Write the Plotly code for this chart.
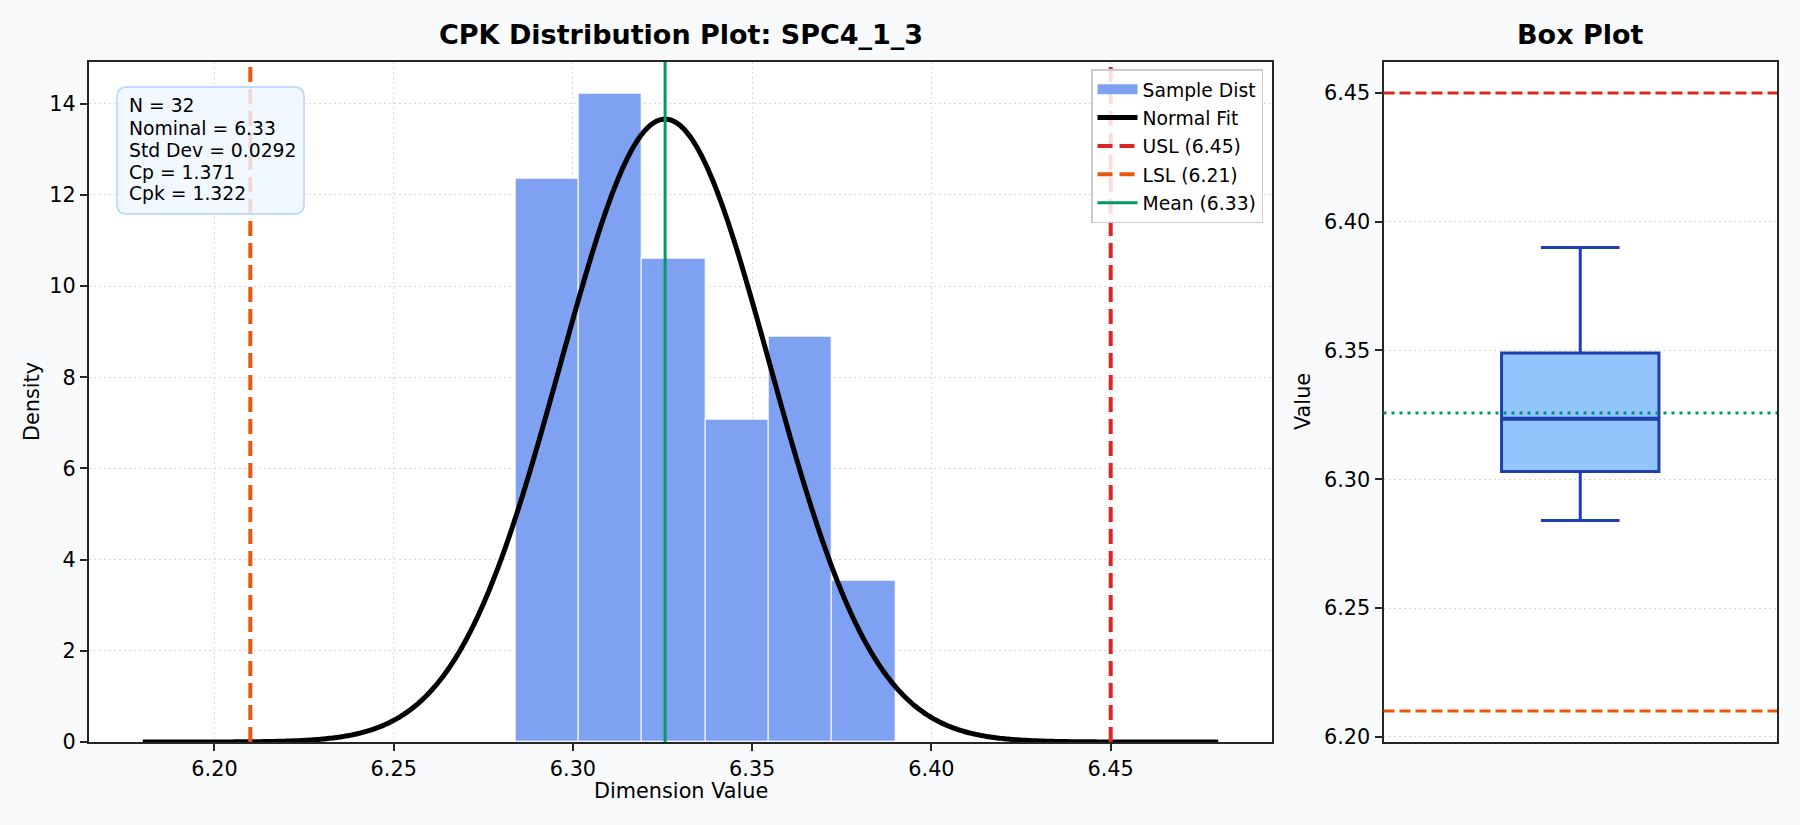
import numpy as np
import plotly.graph_objects as go

W, H = 1800, 825

PART = "SPC4_1_3"
N = 32
USL = 6.45
LSL = 6.21
MEAN = 6.3257
STD = 0.0292
NOMINAL = 6.33
CP = 1.371
CPK = 1.322

# histogram (6 bins between min and max sample)
BIN_EDGES = [6.284, 6.3017, 6.3193, 6.337, 6.3547, 6.3723, 6.390]
BIN_COUNTS = [7, 8, 6, 4, 5, 2]

# box plot summary
BOX_Q1 = 6.303
BOX_MEDIAN = 6.3235
BOX_Q3 = 6.349
BOX_LOW = 6.284
BOX_HIGH = 6.390

C_BAR = "#7ea1f1"
C_USL = "#dc2626"
C_LSL = "#ea580c"
C_MEAN = "#059669"
C_BOX = "#93c5fd"
C_BOX_LINE = "#1e40af"
C_GRID = "#d9d9d9"
C_SPINE = "#262626"
FONT = "DejaVu Sans"


def px(x):
    return x / W


def py(y):
    return 1 - y / H


edges = np.array(BIN_EDGES)
widths = np.diff(edges)
centers = edges[:-1] + widths / 2
density = np.array(BIN_COUNTS) / (N * widths)

x_lo, x_hi = LSL - 0.03, USL + 0.03
xs = np.linspace(x_lo, x_hi, 600)
pdf = np.exp(-0.5 * ((xs - MEAN) / STD) ** 2) / (STD * np.sqrt(2 * np.pi))
y_top = 1.05 * max(density.max(), pdf.max())
x_pad = 0.05 * (x_hi - x_lo)
b_pad = 0.05 * (USL - LSL)

fig = go.Figure()

fig.add_trace(go.Bar(
    x=centers, y=density, width=widths, name="Sample Dist",
    marker=dict(color=C_BAR, line=dict(color="rgba(255,255,255,0.65)", width=1.5)),
    showlegend=False, hoverinfo="skip",
))
# legend patch for the histogram (wide swatch like the original)
fig.add_trace(go.Scatter(
    x=[None], y=[None], mode="lines", name="Sample Dist",
    line=dict(color=C_BAR, width=14), legendgroup="a",
))
fig.add_trace(go.Scatter(
    x=xs, y=pdf, mode="lines", name="Normal Fit",
    line=dict(color="black", width=5, simplify=False), legendgroup="b", hoverinfo="skip",
))
fig.add_trace(go.Scatter(
    x=[USL, USL], y=[0, y_top], mode="lines", name=f"USL ({USL:.2f})",
    line=dict(color=C_USL, width=4, dash="15px,7px"), legendgroup="c", hoverinfo="skip",
))
fig.add_trace(go.Scatter(
    x=[LSL, LSL], y=[0, y_top], mode="lines", name=f"LSL ({LSL:.2f})",
    line=dict(color=C_LSL, width=4, dash="15px,7px"), legendgroup="d", hoverinfo="skip",
))
fig.add_trace(go.Scatter(
    x=[MEAN, MEAN], y=[0, y_top], mode="lines", name=f"Mean ({MEAN:.2f})",
    line=dict(color=C_MEAN, width=3), legendgroup="e", hoverinfo="skip",
))

# box plot
BOX_POS, BOX_W = 1, 0.4
fig.add_trace(go.Box(
    x=[BOX_POS], q1=[BOX_Q1], median=[BOX_MEDIAN], q3=[BOX_Q3],
    lowerfence=[BOX_LOW], upperfence=[BOX_HIGH], width=BOX_W,
    whiskerwidth=0.5, fillcolor=C_BOX, line=dict(color=C_BOX_LINE, width=3),
    xaxis="x2", yaxis="y2", showlegend=False, hoverinfo="skip",
))

shapes = [
    dict(type="line", xref="x2 domain", yref="y2", x0=0, x1=1, y0=USL, y1=USL,
         line=dict(color=C_USL, width=3, dash="11px,5px")),
    dict(type="line", xref="x2 domain", yref="y2", x0=0, x1=1, y0=LSL, y1=LSL,
         line=dict(color=C_LSL, width=3, dash="11px,5px")),
    dict(type="line", xref="x2 domain", yref="y2", x0=0, x1=1, y0=MEAN, y1=MEAN,
         line=dict(color=C_MEAN, width=3, dash="3px,5px")),
    dict(type="line", xref="x2", yref="y2", x0=BOX_POS - BOX_W / 2, x1=BOX_POS + BOX_W / 2,
         y0=BOX_MEDIAN, y1=BOX_MEDIAN, line=dict(color=C_BOX_LINE, width=4)),
]

# rounded stats box
bx0, by0, bx1, by1, r = 117, 87, 304, 214, 10
rx, ry = r / W, r / H
X0, X1, Y0, Y1 = px(bx0), px(bx1), py(by0), py(by1)
path = (f"M {X0 + rx},{Y0} L {X1 - rx},{Y0} Q {X1},{Y0} {X1},{Y0 - ry} "
        f"L {X1},{Y1 + ry} Q {X1},{Y1} {X1 - rx},{Y1} L {X0 + rx},{Y1} "
        f"Q {X0},{Y1} {X0},{Y1 + ry} L {X0},{Y0 - ry} Q {X0},{Y0} {X0 + rx},{Y0} Z")
shapes.append(dict(type="path", xref="paper", yref="paper", path=path,
                   fillcolor="rgba(239,246,255,0.82)", line=dict(color="#bfdbfe", width=1.8),
                   layer="above"))

stats = [f"N = {N}", f"Nominal = {NOMINAL:.2f}", f"Std Dev = {STD:.4f}",
         f"Cp = {CP:.3f}", f"Cpk = {CPK:.3f}"]
annotations = []
for i, line in enumerate(stats):
    annotations.append(dict(
        x=px(127), y=py(106 + 22 * i), xref="paper", yref="paper", text=line,
        showarrow=False, xanchor="left", yanchor="middle",
        font=dict(family=FONT, size=18.75, color="black"),
    ))

annotations += [
    dict(x=px(681), y=py(34), text=f"<b>CPK Distribution Plot: {PART}</b>",
         font=dict(family=FONT, size=27, color="black")),
    dict(x=px(1580), y=py(34), text="<b>Box Plot</b>",
         font=dict(family=FONT, size=27, color="black")),
    dict(x=px(681), y=py(791), text="Dimension Value",
         font=dict(family=FONT, size=20.8, color="black")),
    dict(x=px(32), y=py(402), text="Density", textangle=-90,
         font=dict(family=FONT, size=20.8, color="black")),
    dict(x=px(1303), y=py(402), text="Value", textangle=-90,
         font=dict(family=FONT, size=20.8, color="black")),
]
for a in annotations[-5:]:
    a.update(xref="paper", yref="paper", showarrow=False, xanchor="center", yanchor="middle")

axis_common = dict(
    showline=True, mirror=True, linecolor=C_SPINE, linewidth=2,
    ticks="outside", ticklen=7, tickwidth=1.7, tickcolor=C_SPINE,
    tickfont=dict(family=FONT, size=20.8, color="black"),
    gridcolor=C_GRID, gridwidth=1.3, griddash="2px,3px",
    zeroline=False, automargin=False,
)
ydom = [py(742), py(62)]

fig.update_layout(
    width=W, height=H,
    margin=dict(l=0, r=0, t=0, b=0),
    paper_bgcolor="#f8fafc", plot_bgcolor="white",
    font=dict(family=FONT, color="black"),
    bargap=0,
    showlegend=True,
    legend=dict(
        x=px(1263), y=py(69), xanchor="right", yanchor="top",
        bgcolor="rgba(255,255,255,0.85)", bordercolor="#cccccc", borderwidth=1.5,
        font=dict(family=FONT, size=18.75, color="black"),
        tracegroupgap=1, itemwidth=40,
    ),
    xaxis=dict(axis_common, domain=[px(89), px(1272)], range=[x_lo - x_pad, x_hi + x_pad],
               tick0=6.2, dtick=0.05, tickformat=".2f", showgrid=True),
    yaxis=dict(axis_common, domain=ydom, range=[0, y_top], tick0=0, dtick=2, showgrid=True),
    xaxis2=dict(axis_common, domain=[px(1383.5), px(1777)], range=[0.5, 1.5],
                showticklabels=False, ticks="", showgrid=False, anchor="y2"),
    yaxis2=dict(axis_common, domain=ydom, range=[LSL - b_pad, USL + b_pad],
                tick0=6.2, dtick=0.05, tickformat=".2f", showgrid=True, anchor="x2"),
    shapes=shapes,
    annotations=annotations,
)

# page body has a default 8px margin; drop it so the figure fills the window
fig.write_html("out.html", config={"displayModeBar": False},
               post_script="document.body.style.margin='0';")
